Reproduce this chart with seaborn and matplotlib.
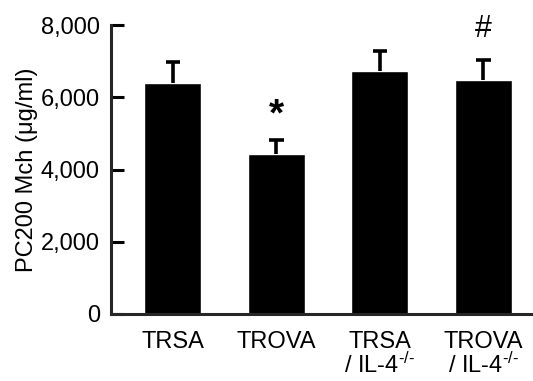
import numpy as np
import pandas as pd
import matplotlib
matplotlib.use("Agg")
import matplotlib.pyplot as plt
import seaborn as sns

# data
groups = ["TRSA", "TROVA", "TRSA\n/ IL-4$^{\\text{-/-}}$", "TROVA\n/ IL-4$^{\\text{-/-}}$"]
pc200 = [6400, 4430, 6730, 6480]
sem = [580, 390, 560, 560]
marks = ["", "*", "", "#"]

sns.set_style("ticks")
plt.rcParams["font.family"] = ["Liberation Sans", "DejaVu Sans"]
plt.rcParams["mathtext.fontset"] = "custom"
plt.rcParams["mathtext.rm"] = "Liberation Sans"
plt.rcParams["mathtext.it"] = "Liberation Sans"
plt.rcParams["text.color"] = "black"
plt.rcParams["axes.labelcolor"] = "black"
plt.rcParams["xtick.color"] = "black"
plt.rcParams["ytick.color"] = "black"

df = pd.DataFrame({"group": groups, "pc200": pc200})

fig = plt.figure(figsize=(5.33, 3.81), dpi=100)
ax = fig.add_axes([0.208, 0.176, 0.80, 0.758])

sns.barplot(data=df, x="group", y="pc200", color="black", width=0.55,
            errorbar=None, saturation=1, ax=ax)

# upper error bars only
xpos = np.arange(len(groups))
tops = np.array(pc200) + np.array(sem)
ax.vlines(xpos, pc200, tops, color="black", linewidth=2.6)
ax.hlines(tops, xpos - 0.07, xpos + 0.07, color="black", linewidth=2.6)

for i, m in enumerate(marks):
    if m == "*":
        ax.text(i, tops[i] + 180, m, ha="center", va="bottom", fontsize=28,
                fontweight="bold")
    elif m:
        ax.text(i, tops[i] + 450, m, ha="center", va="bottom", fontsize=22)

ax.set_xlim(-0.6, 3.52)
ax.set_ylim(0, 8000)
ax.set_yticks([0, 2000, 4000, 6000, 8000])
ax.set_yticklabels(["0", "2,000", "4,000", "6,000", "8,000"])
ax.tick_params(axis="y", direction="in", length=9, width=2.2, labelsize=17, pad=8)
ax.tick_params(axis="x", length=0, labelsize=17, pad=12)
for lbl in ax.get_xticklabels():
    lbl.set_linespacing(1.0)
ax.set_xlabel("")
ax.set_ylabel("PC200 Mch (μg/ml)", fontsize=17, labelpad=2)

sns.despine(ax=ax)
for s in ["left", "bottom"]:
    ax.spines[s].set_linewidth(2.2)

fig.savefig("out.png", dpi=100)
